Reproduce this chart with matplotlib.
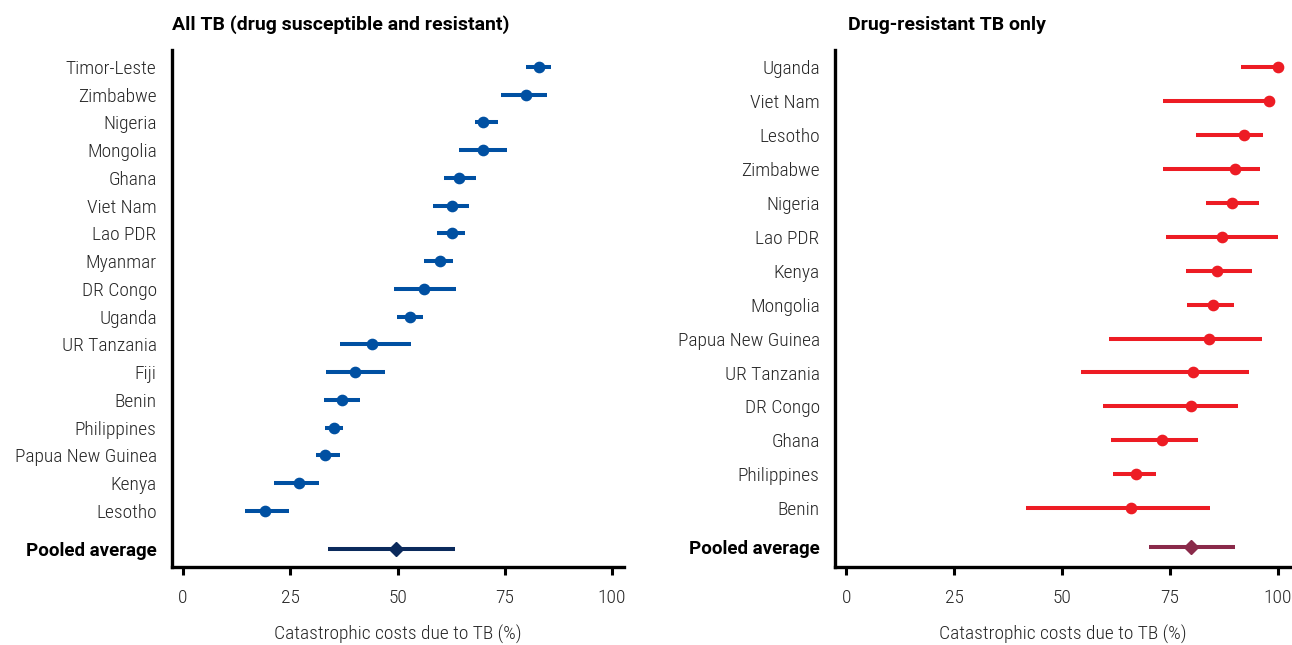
import matplotlib
matplotlib.use('Agg')
import matplotlib.pyplot as plt

plt.rcParams['font.family'] = ['Roboto Condensed', 'Archivo Narrow', 'Liberation Sans', 'DejaVu Sans']
BoldFamily = ['Roboto', 'Liberation Sans', 'DejaVu Sans']     # 粗体文字用的字体

# 左图：全部结核病
all_countries = ['Timor-Leste', 'Zimbabwe', 'Nigeria', 'Mongolia', 'Ghana', 'Viet Nam',
                 'Lao PDR', 'Myanmar', 'DR Congo', 'Uganda', 'UR Tanzania', 'Fiji', 'Benin',
                 'Philippines', 'Papua New Guinea', 'Kenya', 'Lesotho']
all_est = [82.9, 80.0, 69.9, 70.0, 64.4, 62.8, 62.6, 60.0, 56.1, 53.0, 44.0, 40.1, 37.1,
           35.1, 33.1, 27.0, 19.1]
all_lo = [80.0, 74.1, 68.0, 64.4, 60.9, 58.3, 59.2, 56.1, 49.1, 49.9, 36.6, 33.3, 32.8,
          33.1, 31.0, 21.2, 14.4]
all_hi = [85.9, 84.9, 73.4, 75.5, 68.3, 66.7, 65.8, 63.0, 63.6, 56.0, 53.2, 47.0, 41.3,
          37.3, 36.6, 31.8, 24.7]
all_pooled = [49.7, 33.9, 63.5]   # 估计值, 下限, 上限

# 右图：耐药结核病
dr_countries = ['Uganda', 'Viet Nam', 'Lesotho', 'Zimbabwe', 'Nigeria', 'Lao PDR', 'Kenya',
                'Mongolia', 'Papua New Guinea', 'UR Tanzania', 'DR Congo', 'Ghana',
                'Philippines', 'Benin']
dr_est = [100.0, 97.9, 92.1, 90.0, 89.5, 87.0, 86.0, 85.1, 84.0, 80.3, 80.0, 73.1, 67.1, 66.1]
dr_lo = [91.5, 73.3, 81.0, 73.3, 83.4, 74.0, 78.8, 78.9, 60.9, 54.5, 59.5, 61.3, 61.9, 41.6]
dr_hi = [100.0, 98.0, 96.7, 95.8, 95.6, 100.0, 94.0, 89.9, 96.4, 93.3, 90.8, 81.5, 71.7, 84.4]
dr_pooled = [80.0, 70.2, 90.0]

xticks = [0, 25, 50, 75, 100]
xlabel = 'Catastrophic costs due to TB (%)'
TextColor = '#262626'                     # 文字颜色


def draw_panel(ax, names, est, lo, hi, pooled, color, pooled_color, pooled_gap, ylim):
    """
    画一个森林图面板
    """
    n = len(names)
    for i in range(n):
        ax.plot([lo[i], hi[i]], [i, i], color=color, lw=2.9, solid_capstyle='butt', zorder=2)
    ax.plot(est, range(n), 'o', color=color, ms=7.4, zorder=3)

    py = n - 1 + pooled_gap
    ax.plot([pooled[1], pooled[2]], [py, py], color=pooled_color, lw=2.9,
            solid_capstyle='butt', zorder=2)
    ax.plot([pooled[0]], [py], 'D', color=pooled_color, ms=7.5, zorder=3)

    ax.set_yticks(list(range(n)) + [py])
    ax.set_yticklabels(names + ['Pooled average'], fontsize=14, color=TextColor,
                       fontweight='light')
    last = ax.get_yticklabels()[-1]
    last.set_family(BoldFamily)
    last.set_fontweight('bold')
    last.set_fontsize(13.5)
    last.set_color('black')
    ax.tick_params(axis='y', length=0, pad=11)
    ax.tick_params(axis='x', length=6, width=2.2, pad=10)

    ax.set_xlim(-2.6, 102.8)
    ax.set_ylim(ylim)
    ax.set_xticks(xticks)
    ax.set_xticklabels([str(t) for t in xticks], fontsize=14, color=TextColor, fontweight='light')
    ax.set_xlabel(xlabel, fontsize=14, color=TextColor, fontweight='light', labelpad=13)

    for s in ['top', 'right']:
        ax.spines[s].set_visible(False)
    for s in ['left', 'bottom']:
        ax.spines[s].set_linewidth(2.4)
        ax.spines[s].set_color('black')


fig = plt.figure(figsize=(12.92, 6.45), dpi=100)
ax1 = fig.add_axes([0.1331, 0.1209, 0.3498, 0.8016])
ax2 = fig.add_axes([0.6463, 0.1209, 0.3520, 0.8016])

draw_panel(ax1, all_countries, all_est, all_lo, all_hi, all_pooled,
           '#0050A2', '#0B2A5C', 1.37, (18.02, -0.61))
draw_panel(ax2, dr_countries, dr_est, dr_lo, dr_hi, dr_pooled,
           '#ED1C24', '#8A2A4A', 1.15, (14.73, -0.5))

fig.text(172 / 1292, 1 - 25 / 645, 'All TB (drug susceptible and resistant)',
         family=BoldFamily, fontsize=14, fontweight='bold', ha='left', va='center')
fig.text(848 / 1292, 1 - 25 / 645, 'Drug-resistant TB only',
         family=BoldFamily, fontsize=14, fontweight='bold', ha='left', va='center')

fig.savefig('out.png', dpi=100)
